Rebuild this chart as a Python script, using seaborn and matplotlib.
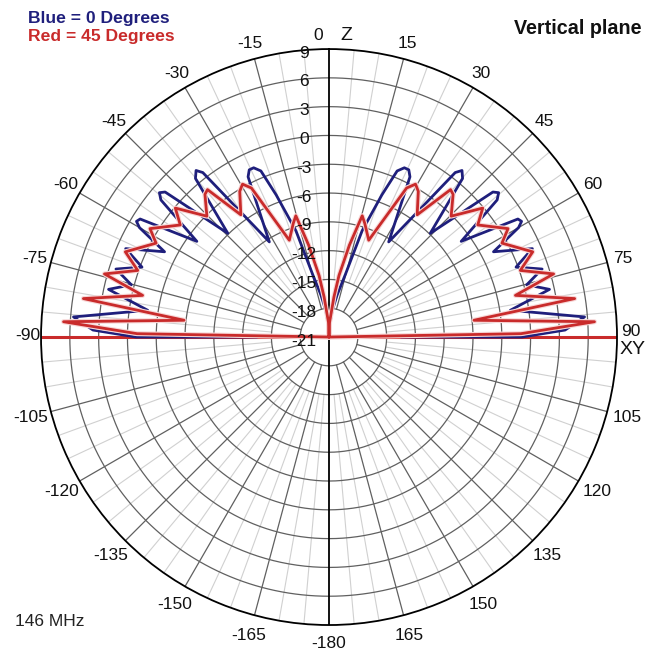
import numpy as np
import pandas as pd
import matplotlib
matplotlib.use("Agg")
import matplotlib.pyplot as plt
import matplotlib.patheffects as pe
from matplotlib.transforms import offset_copy
import seaborn as sns

# ---------------- data (right half, degrees from zenith, gain in dBi) -------------
blue_angle = [0, 4, 7, 11, 14.7, 17.3, 20.4, 22.3, 24, 25.5, 26.8, 32.1, 37.5, 38.6,
              40.1, 44.3, 48.5, 49.6, 50.8, 54.1, 58, 59, 60, 62.6, 66.5, 69.5,
              72.3, 75.2, 77.8, 81.6, 85.5, 88.3, 90, 90]
blue_gain = [-21, -19.5, -18.2, -16.5, -14.2, -9.4, -5.2, -2.3, -1.7, -1.7, -2.3, -9.3,
             0.6, 1.2, 0.6, -5.9, 1.8, 2.2, 1.6, -4.0, 2.2, 2.4, 1.8, -1.7, 2.1, -0.2,
             2.3, 0.3, 2.5, -1.9, 5.7, 3.6, -0.9, -13.5]

red_angle = [0, 2, 7, 9.2, 12.5, 15.3, 17.5, 22.3, 27.5, 29.5, 31.5, 35.8, 39.5, 41,
             45.3, 50, 53, 58.8, 61.5, 67.3, 70.8, 74.3, 77.4, 81.1, 83.4, 86.7, 89, 90]
red_gain = [-21, -19.5, -16.8, -14.5, -11.2, -7.9, -8.6, -10.1, -3.5, -2.7, -3.2, -5.3,
            -1.1, -1.3, -3.1, -0.1, -1.6, 0.8, -0.5, 2.0, 0.1, 3.3, -1.1, 4.9, -5.8,
            6.7, -1.0, -21]

ring_values = [9, 6, 3, 0, -3, -6, -9, -12, -15, -18, -21]
angle_ticks = list(range(-165, 181, 15))
R_MIN, R_MAX = -21, 9

BLUE = "#1f1f7c"
RED = "#c92b2b"


def mirrored(angles, gains):
    a = np.asarray(angles, float)
    g = np.asarray(gains, float)
    full_a = np.concatenate([-a[::-1], a[1:]])
    full_g = np.concatenate([g[::-1], g[1:]])
    return pd.DataFrame({"theta": np.deg2rad(full_a), "gain": full_g})


blue_df = mirrored(blue_angle, blue_gain)
red_df = mirrored(red_angle, red_gain)

sns.set_style("white")
plt.rcParams["font.family"] = ["Liberation Sans", "DejaVu Sans"]

fig = plt.figure(figsize=(6.48, 6.54), dpi=100)
fig.patch.set_facecolor("white")
ax = fig.add_axes([0.0633, 0.0443, 0.8889, 0.8807], projection="polar")
ax.set_theta_zero_location("N")
ax.set_theta_direction(-1)
ax.set_rlim(R_MIN, R_MAX)
ax.grid(False)
ax.set_xticks([])
ax.set_yticks([])
ax.spines["polar"].set_color("black")
ax.spines["polar"].set_linewidth(1.3)
ax.set_facecolor("white")

# ---------------- grid ----------------
circ = np.linspace(0, 2 * np.pi, 721)
for v in ring_values[1:-1]:
    ax.plot(circ, np.full_like(circ, v), color="#606060", lw=0.9, zorder=1)
for d in range(0, 360, 5):
    if d % 90 == 0:
        continue
    t = np.deg2rad(d)
    if d % 15 == 0:
        ax.plot([t, t], [-18, R_MAX], color="#606060", lw=0.9, zorder=1)
    else:
        ax.plot([t, t], [-15, R_MAX], color="#d0d0d0", lw=0.8, zorder=0.9)
# axes through centre
for d in (0, 180):
    t = np.deg2rad(d)
    ax.plot([t, t], [R_MIN, R_MAX], color="black", lw=1.3, zorder=1.5)

# red horizon line (full diameter)
for d in (90, -90):
    t = np.deg2rad(d)
    ax.plot([t, t], [R_MIN, R_MAX], color=RED, lw=2.2, zorder=2,
            solid_capstyle="butt")

# ---------------- traces ----------------
sns.lineplot(data=blue_df, x="theta", y="gain", sort=False, estimator=None,
             color=BLUE, lw=2.0, ax=ax, zorder=3)
sns.lineplot(data=red_df, x="theta", y="gain", sort=False, estimator=None,
             color=RED, lw=2.0, ax=ax, zorder=4)
ax.lines[-1].set_path_effects([pe.Stroke(linewidth=3.6, foreground="#f7d6d6"), pe.Normal()])
ax.set_xlabel("")
ax.set_ylabel("")
ax.set_rlim(R_MIN, R_MAX)
ax.set_xticks([])
ax.set_yticks([])

# ---------------- labels ----------------
lab_font = dict(fontsize=12.5, color="#111111")
for d in angle_ticks:
    if d in (0, 90, -90, 180):
        continue
    rr = 10.7 if abs(d) < 90 else 11.2
    ax.text(np.deg2rad(d), rr, f"{d}", ha="center", va="center", zorder=6, **lab_font)
ax.text(np.deg2rad(-2.0), 10.4, "0", ha="center", va="center", **lab_font)
ax.text(np.deg2rad(3.3), 10.5, "Z", ha="center", va="center", fontsize=14, color="#111111")
ax.text(np.deg2rad(-89.7), 10.4, "-90", ha="center", va="center", **lab_font)
ax.text(np.deg2rad(89.0), 10.4, "90", ha="center", va="center", **lab_font)
ax.text(np.deg2rad(92.4), 10.6, "XY", ha="center", va="center", fontsize=14, color="#111111")
ax.text(np.deg2rad(180), 10.9, "-180", ha="center", va="center", **lab_font)

rad_tr = offset_copy(ax.transData, fig=fig, x=-25, y=-4, units="dots")
for v in ring_values:
    ax.text(0, v, f"{v}", transform=rad_tr, ha="center", va="center", zorder=6,
            fontsize=12.5, color="#111111")

bold = ["Liberation Sans", "DejaVu Sans"]
fig.text(28 / 648, 1 - 18 / 654, "Blue = 0 Degrees", color=BLUE, fontsize=12.6,
         fontweight="bold", family=bold, ha="left", va="center")
fig.text(28 / 648, 1 - 37 / 654, "Red = 45 Degrees", color=RED, fontsize=12.6,
         fontweight="bold", family=bold, ha="left", va="center")
fig.text(641 / 648, 1 - 29 / 654, "Vertical plane", color="#111111", fontsize=14.2,
         fontweight="bold", family=bold, ha="right", va="center")
fig.text(15 / 648, 1 - 622 / 654, "146 MHz", color="#222222", fontsize=12.5,
         ha="left", va="center")

fig.savefig("out.png", dpi=100, facecolor="white")
